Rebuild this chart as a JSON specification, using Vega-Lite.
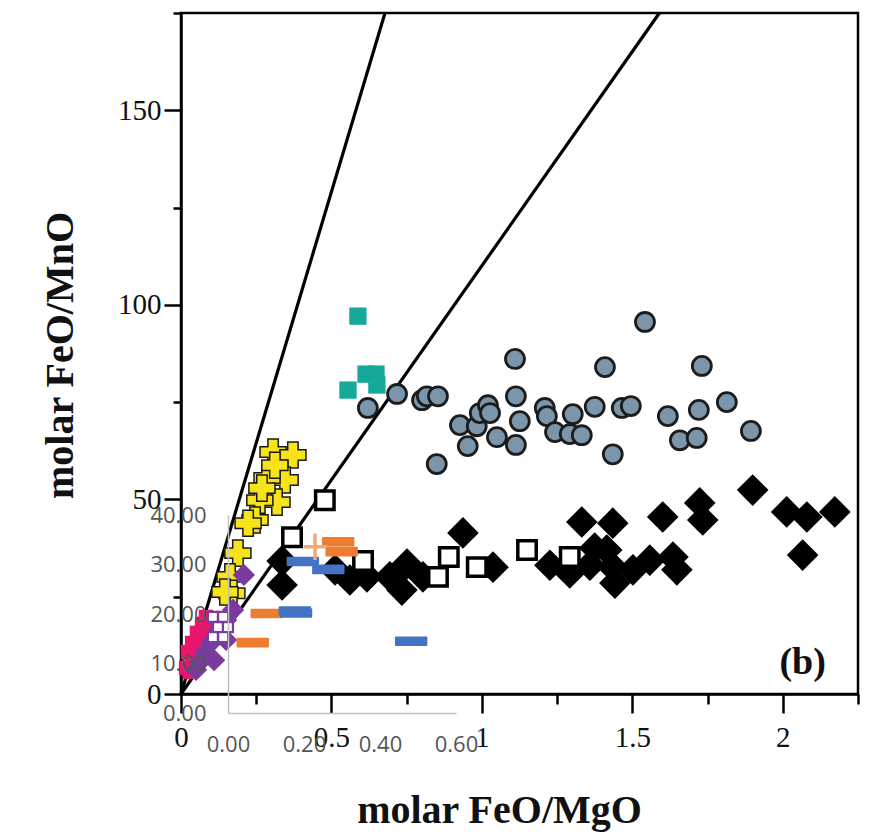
{
  "$schema": "https://vega.github.io/schema/vega-lite/v6.json",
  "width": 677,
  "height": 681,
  "autosize": {"type": "none"},
  "padding": {"left": 181, "top": 13, "right": 14, "bottom": 143},
  "background": "white",
  "config": {"view": {"stroke": "black", "strokeWidth": 2.5}},
  "datasets": {
    "lines": [
      {"g": "a", "x": 0, "y": 0}, {"g": "a", "x": 0.678, "y": 175},
      {"g": "b", "x": 0, "y": 0}, {"g": "b", "x": 1.59, "y": 175}
    ],
    "circles": [
      {"x": 0.621, "y": 73.5}, {"x": 0.718, "y": 77.1}, {"x": 0.801, "y": 75.5}, {"x": 0.817, "y": 76.5},
      {"x": 0.854, "y": 76.5}, {"x": 0.850, "y": 59.1}, {"x": 0.927, "y": 69.1}, {"x": 0.953, "y": 63.7},
      {"x": 0.983, "y": 68.8}, {"x": 0.993, "y": 72.2}, {"x": 1.020, "y": 74.2}, {"x": 1.027, "y": 72.2},
      {"x": 1.050, "y": 66.0}, {"x": 1.110, "y": 86.1}, {"x": 1.113, "y": 76.5}, {"x": 1.126, "y": 70.1},
      {"x": 1.113, "y": 64.0}, {"x": 1.209, "y": 73.5}, {"x": 1.216, "y": 71.4}, {"x": 1.243, "y": 67.3},
      {"x": 1.292, "y": 66.8}, {"x": 1.302, "y": 71.9}, {"x": 1.332, "y": 66.5}, {"x": 1.375, "y": 73.8},
      {"x": 1.409, "y": 84.0}, {"x": 1.542, "y": 95.6}, {"x": 1.465, "y": 73.5}, {"x": 1.495, "y": 74.0},
      {"x": 1.618, "y": 71.4}, {"x": 1.658, "y": 65.2}, {"x": 1.714, "y": 65.8}, {"x": 1.721, "y": 73.0},
      {"x": 1.731, "y": 84.3}, {"x": 1.814, "y": 75.0}, {"x": 1.894, "y": 67.6}, {"x": 1.435, "y": 61.6}
    ],
    "teal": [
      {"x": 0.588, "y": 97.1}, {"x": 0.615, "y": 82.2}, {"x": 0.648, "y": 82.2},
      {"x": 0.555, "y": 78.1}, {"x": 0.651, "y": 79.4}
    ],
    "diamonds": [
      {"x": 0.336, "y": 34.2}, {"x": 0.336, "y": 28.0}, {"x": 0.512, "y": 31.9}, {"x": 0.561, "y": 29.3},
      {"x": 0.618, "y": 30.1}, {"x": 0.694, "y": 30.1}, {"x": 0.751, "y": 33.4}, {"x": 0.734, "y": 26.7},
      {"x": 0.804, "y": 30.1}, {"x": 0.937, "y": 41.4}, {"x": 1.037, "y": 32.6}, {"x": 1.226, "y": 33.1},
      {"x": 1.332, "y": 44.2}, {"x": 1.435, "y": 43.9}, {"x": 1.292, "y": 31.1}, {"x": 1.415, "y": 37.0},
      {"x": 1.435, "y": 32.6}, {"x": 1.442, "y": 28.5}, {"x": 1.502, "y": 31.9}, {"x": 1.558, "y": 34.4},
      {"x": 1.601, "y": 45.5}, {"x": 1.635, "y": 35.2}, {"x": 1.648, "y": 31.9}, {"x": 1.724, "y": 49.1},
      {"x": 1.734, "y": 44.7}, {"x": 1.900, "y": 52.4}, {"x": 2.013, "y": 46.8}, {"x": 2.080, "y": 45.5},
      {"x": 2.173, "y": 46.8}, {"x": 2.066, "y": 35.7}, {"x": 1.375, "y": 37.5}, {"x": 1.359, "y": 33.1}
    ],
    "opensq": [
      {"x": 0.478, "y": 49.8}, {"x": 0.369, "y": 40.3}, {"x": 0.605, "y": 34.2}, {"x": 0.890, "y": 35.2},
      {"x": 0.854, "y": 30.1}, {"x": 0.983, "y": 32.6}, {"x": 1.150, "y": 37.0}, {"x": 1.292, "y": 35.2}
    ],
    "crosses": [
      {"x": 0.306, "y": 62.2}, {"x": 0.372, "y": 61.4}, {"x": 0.346, "y": 55.0}, {"x": 0.286, "y": 55.5},
      {"x": 0.319, "y": 49.3}, {"x": 0.262, "y": 49.8}, {"x": 0.246, "y": 44.7}, {"x": 0.223, "y": 43.9},
      {"x": 0.312, "y": 58.8}, {"x": 0.269, "y": 52.9}, {"x": 0.189, "y": 36.2}, {"x": 0.163, "y": 30.1},
      {"x": 0.169, "y": 25.9}, {"x": 0.146, "y": 26.2}
    ],
    "pink": [
      {"x": 0.017, "y": 6.7}, {"x": 0.037, "y": 8.2}, {"x": 0.023, "y": 10.8}, {"x": 0.050, "y": 10.0},
      {"x": 0.037, "y": 13.1}, {"x": 0.063, "y": 12.6}, {"x": 0.053, "y": 15.7}, {"x": 0.076, "y": 14.9},
      {"x": 0.070, "y": 18.0}, {"x": 0.090, "y": 17.2}, {"x": 0.083, "y": 19.8}, {"x": 0.030, "y": 5.7}
    ],
    "purple": [
      {"x": 0.209, "y": 30.6}, {"x": 0.173, "y": 21.6}, {"x": 0.150, "y": 19.0}, {"x": 0.126, "y": 16.4},
      {"x": 0.103, "y": 13.4}, {"x": 0.080, "y": 10.8}, {"x": 0.063, "y": 8.2}, {"x": 0.110, "y": 8.7},
      {"x": 0.150, "y": 13.9}, {"x": 0.050, "y": 6.2}
    ],
    "gridsq": [
      {"x": 0.106, "y": 19.8}, {"x": 0.140, "y": 19.8}, {"x": 0.123, "y": 17.2},
      {"x": 0.156, "y": 17.2}, {"x": 0.106, "y": 14.6}, {"x": 0.140, "y": 14.6}
    ],
    "label": [{"x": 2.066, "y": 8.0, "t": "(b)"}],
    "orange": [
      {"x": 0.065, "y": 14.2}, {"x": 0.102, "y": 20.1}, {"x": 0.290, "y": 34.6}, {"x": 0.299, "y": 32.6}
    ],
    "blue": [
      {"x": 0.197, "y": 30.6}, {"x": 0.264, "y": 29.0}, {"x": 0.176, "y": 20.6},
      {"x": 0.179, "y": 20.2}, {"x": 0.482, "y": 14.5}
    ],
    "plus": [{"x": 0.229, "y": 33.6}]
  },
  "layer": [
    {
      "encoding": {
        "x": {
          "field": "x", "type": "quantitative",
          "scale": {"domain": [0, 2.25], "nice": false, "zero": false},
          "axis": {
            "orient": "bottom", "grid": false,
            "values": [0, 0.25, 0.5, 0.75, 1, 1.25, 1.5, 1.75, 2, 2.25],
            "labelExpr": "datum.value % 0.5 == 0 ? '' + datum.value : ''",
            "tickSize": {"condition": {"test": "datum.value % 0.5 == 0", "value": 19}, "value": 10},
            "tickWidth": 2.5, "tickColor": "black", "domainColor": "black", "domainWidth": 2.5,
            "labelFont": "Liberation Serif", "labelFontSize": 29, "labelColor": "#111111",
            "labelPadding": 10, "labelFlush": false, "labelOverlap": false,
            "title": "molar FeO/MgO", "titleFont": "Liberation Serif", "titleFontSize": 40,
            "titleFontWeight": "bold", "titleColor": "#111111", "titleX": 318, "titleY": 128,
            "titleBaseline": "alphabetic", "titleAlign": "center"
          }
        },
        "y": {
          "field": "y", "type": "quantitative",
          "scale": {"domain": [0, 175], "nice": false, "zero": false},
          "axis": {
            "orient": "left", "grid": false,
            "values": [0, 25, 50, 75, 100, 125, 150, 175],
            "labelExpr": "datum.value % 50 == 0 ? '' + datum.value : ''",
            "tickSize": {"condition": {"test": "datum.value % 50 == 0", "value": 17}, "value": 8},
            "tickWidth": 2.5, "tickColor": "black", "domainColor": "black", "domainWidth": 2.5,
            "labelFont": "Liberation Serif", "labelFontSize": 29, "labelColor": "#111111",
            "labelPadding": 3, "labelFlush": false, "labelOverlap": false,
            "title": "molar FeO/MnO", "titleFont": "Liberation Serif", "titleFontSize": 40,
            "titleFontWeight": "bold", "titleColor": "#111111", "titleX": -109, "titleY": 342,
            "titleBaseline": "alphabetic", "titleAlign": "center", "titleAngle": 270
          }
        }
      },
      "layer": [
        {
          "data": {"name": "lines"},
          "mark": {"type": "line", "color": "black", "strokeWidth": 3.2},
          "encoding": {"detail": {"field": "g"}}
        },
        {
          "data": {"name": "circles"},
          "mark": {"type": "point", "shape": "circle", "filled": true, "fill": "#7b96ab", "stroke": "#1c1c1c", "strokeWidth": 2.8, "size": 360, "opacity": 1}
        },
        {
          "data": {"name": "teal"},
          "mark": {"type": "point", "shape": "square", "filled": true, "fill": "#16a898", "size": 300, "opacity": 1, "strokeWidth": 0}
        },
        {
          "data": {"name": "diamonds"},
          "mark": {"type": "point", "shape": "diamond", "filled": true, "fill": "black", "size": 1000, "opacity": 1, "strokeWidth": 0}
        },
        {
          "data": {"name": "opensq"},
          "mark": {"type": "point", "shape": "square", "filled": true, "fill": "white", "stroke": "black", "strokeWidth": 3.5, "size": 340, "opacity": 1}
        },
        {
          "data": {"name": "crosses"},
          "mark": {"type": "point", "shape": "cross", "filled": true, "fill": "#f6e31a", "stroke": "#1a1a1a", "strokeWidth": 1.5, "size": 680, "opacity": 1}
        },
        {
          "data": {"name": "pink"},
          "mark": {"type": "point", "shape": "square", "filled": true, "fill": "#e8176c", "size": 210, "opacity": 1, "strokeWidth": 0}
        },
        {
          "data": {"name": "purple"},
          "mark": {"type": "point", "shape": "diamond", "filled": true, "fill": "#7a3b9e", "size": 500, "opacity": 1, "strokeWidth": 0}
        },
        {
          "data": {"name": "gridsq"},
          "mark": {"type": "point", "shape": "square", "filled": true, "fill": "white", "stroke": "#7a3b9e", "strokeWidth": 2.2, "size": 100, "opacity": 1}
        },
        {
          "data": {"name": "label"},
          "mark": {"type": "text", "font": "Liberation Serif", "fontSize": 38, "fontWeight": "bold", "color": "#111111", "align": "center", "baseline": "middle"},
          "encoding": {"text": {"field": "t"}}
        }
      ]
    },
    {
      "encoding": {
        "x": {
          "field": "x", "type": "quantitative",
          "scale": {"domain": [0, 0.6], "range": [47, 275], "nice": false, "zero": false},
          "axis": {
            "orient": "bottom", "offset": 19, "grid": false, "zindex": 1,
            "values": [0, 0.2, 0.4, 0.6], "format": ".2f",
            "ticks": false, "tickSize": 0, "domainColor": "#c0c0c0", "domainWidth": 1.5,
            "labelFont": "Open Sans", "labelFontSize": 22, "labelColor": "#555555",
            "labelPadding": 21, "labelFlush": false, "labelOverlap": false, "title": null
          }
        },
        "y": {
          "field": "y", "type": "quantitative",
          "scale": {"domain": [0, 40], "range": [700, 502], "nice": false, "zero": false},
          "axis": {
            "orient": "left", "offset": -47, "grid": false, "zindex": 1,
            "values": [0, 10, 20, 30, 40], "format": ".2f",
            "ticks": false, "tickSize": 0, "domainColor": "#c0c0c0", "domainWidth": 1.5,
            "labelFont": "Open Sans", "labelFontSize": 22, "labelColor": "#555555",
            "labelPadding": 22, "labelFlush": false, "labelOverlap": false, "title": null
          }
        }
      },
      "layer": [
        {
          "data": {"name": "orange"},
          "mark": {"type": "point", "shape": "M-0.95,-0.24L0.95,-0.24L0.95,0.24L-0.95,0.24Z", "filled": true, "fill": "#ed7d31", "stroke": "#ed7d31", "strokeWidth": 2, "strokeJoin": "round", "size": 1024, "opacity": 1}
        },
        {
          "data": {"name": "blue"},
          "mark": {"type": "point", "shape": "M-0.95,-0.24L0.95,-0.24L0.95,0.24L-0.95,0.24Z", "filled": true, "fill": "#4472c4", "stroke": "#4472c4", "strokeWidth": 2, "strokeJoin": "round", "size": 1024, "opacity": 1}
        },
        {
          "data": {"name": "plus"},
          "mark": {"type": "point", "shape": "M-0.85,0L0.85,0M0,-1L0,1", "filled": false, "stroke": "#f4a878", "strokeWidth": 3.5, "size": 700, "opacity": 1}
        }
      ]
    }
  ],
  "resolve": {
    "scale": {"x": "independent", "y": "independent"},
    "axis": {"x": "independent", "y": "independent"}
  }
}
